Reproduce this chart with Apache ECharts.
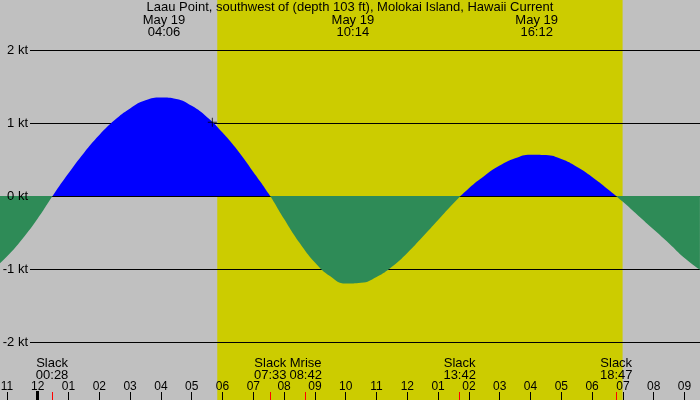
<!DOCTYPE html>
<html>
<head>
<meta charset="utf-8">
<script src="https://cdn.jsdelivr.net/npm/echarts@6/dist/echarts.min.js"></script>
<style>
html, body { margin: 0; padding: 0; background: #c0c0c0; }
#chart { width: 700px; height: 400px; }
</style>
</head>
<body>
<div id="chart"></div>
<script>
// half-hourly current (knots), hours after midnight May 19; + flood, - ebb
const hours = [-1.5, -1, -0.5, 0, 0.5, 1, 1.5, 2, 2.5, 3, 3.5, 4, 4.5, 5, 5.5, 6, 6.5, 7, 7.5,
  8, 8.5, 9, 9.5, 10, 10.5, 11, 11.5, 12, 12.5, 13, 13.5, 14, 14.5, 15, 15.5, 16, 16.5,
  17, 17.5, 18, 18.5, 19, 19.5, 20, 20.5, 21, 21.5]
const knots = [-1.02, -0.83, -0.59, -0.31, 0.01, 0.31, 0.59, 0.835, 1.04, 1.2, 1.31, 1.35, 1.33, 1.235, 1.08, 0.87, 0.62, 0.33, 0.03,
  -0.315, -0.64, -0.91, -1.1, -1.2, -1.19, -1.11, -0.97, -0.78, -0.56, -0.33, -0.1, 0.107, 0.275, 0.416, 0.517, 0.566, 0.56,
  0.505, 0.4, 0.261, 0.097, -0.08, -0.27, -0.46, -0.65, -0.85, -1.01]

const hourTicks = [-1, 0, 1, 2, 3, 4, 5, 6, 7, 8, 9, 10, 11, 12, 13, 14, 15, 16, 17, 18, 19, 20, 21]
const knotTicks = [-2, -1, 0, 1, 2]

// slack water and moonrise
const eventHours = [0.467, 7.55, 8.7, 13.7, 18.783]
const eventNames = ['Slack', 'Slack', 'Mrise', 'Slack', 'Slack']
const eventClock = ['00:28', '07:33', '08:42', '13:42', '18:47']

// max current times
const peakHours = [4.1, 10.233, 16.2]
const peakDates = ['May 19', 'May 19', 'May 19']
const peakClock = ['04:06', '10:14', '16:12']

const sunrise = 5.83
const sunset = 18.99
const nowMark = [5.67, 1.01]

const xMin = -1.224, xMax = 21.503
const yMin = -2.795, yMax = 2.685

const font = 'Liberation Sans, Arial, sans-serif'

function findIdx(arr, v) {
  for (let i = 0; i < arr.length; i++) {
    if (Math.abs(arr[i] - v) < 1e-4) return i
  }
  return -1
}

let dom = document.getElementById('chart')
let myChart = echarts.init(dom)
let option = {
  backgroundColor: '#c0c0c0',
  animation: false,
  title: {
    text: 'Laau Point, southwest of (depth 103 ft), Molokai Island, Hawaii Current',
    left: 'center',
    top: 1,
    padding: 0,
    textStyle: { fontFamily: font, fontSize: 13, fontWeight: 'normal', color: '#000' }
  },
  grid: [
    { left: 0, right: 0, top: 0, bottom: 0, outerBoundsMode: 'none' },
    { left: 30, right: 0, top: 0, bottom: 0, outerBoundsMode: 'none' }
  ],
  xAxis: [
    { // hour ticks
      type: 'value', gridIndex: 0, min: xMin, max: xMax, position: 'bottom', z: 5,
      axisLine: { show: false, onZero: false }, splitLine: { show: false },
      axisTick: { show: true, inside: true, length: 8, customValues: hourTicks, lineStyle: { color: '#000', width: 1 } },
      axisLabel: {
        show: true, inside: true, margin: 7, customValues: hourTicks,
        fontFamily: font, fontSize: 12, color: '#000',
        formatter: function (v) {
          let h = ((Math.round(v) % 12) + 12) % 12
          if (h === 0) h = 12
          return (h < 10 ? '0' : '') + h
        }
      }
    },
    { // events
      type: 'value', gridIndex: 0, min: xMin, max: xMax, position: 'bottom', z: 5,
      axisLine: { show: false, onZero: false }, splitLine: { show: false },
      axisTick: { show: true, inside: true, length: 8, customValues: eventHours, lineStyle: { color: '#ff0000', width: 1 } },
      axisLabel: {
        show: true, inside: true, margin: 19, customValues: eventHours,
        fontFamily: font, fontSize: 13, lineHeight: 12, color: '#000',
        formatter: function (v) {
          let i = findIdx(eventHours, v)
          return i < 0 ? '' : eventNames[i] + '\n' + eventClock[i]
        }
      }
    },
    { // midnight
      type: 'value', gridIndex: 0, min: xMin, max: xMax, position: 'bottom', z: 5,
      axisLine: { show: false, onZero: false }, splitLine: { show: false },
      axisTick: { show: true, inside: true, length: 9, customValues: [0], lineStyle: { color: '#000', width: 3 } },
      axisLabel: { show: false }
    },
    { // max current labels
      type: 'value', gridIndex: 0, min: xMin, max: xMax, position: 'top', z: 5,
      axisLine: { show: false, onZero: false }, splitLine: { show: false }, axisTick: { show: false },
      axisLabel: {
        show: true, inside: true, margin: 14, customValues: peakHours,
        fontFamily: font, fontSize: 13, lineHeight: 12, color: '#000',
        formatter: function (v) {
          let i = findIdx(peakHours, v)
          return i < 0 ? '' : peakDates[i] + '\n' + peakClock[i]
        }
      }
    },
    { type: 'value', gridIndex: 1, min: xMin, max: xMax, show: false }
  ],
  yAxis: [
    {
      type: 'value', gridIndex: 0, min: yMin, max: yMax, z: 5,
      axisLine: { show: false, onZero: false }, splitLine: { show: false },
      axisTick: { show: false, customValues: knotTicks },
      axisLabel: {
        show: true, inside: true, align: 'right', margin: 28, customValues: knotTicks,
        fontFamily: font, fontSize: 13, color: '#000',
        formatter: '{value} kt'
      }
    },
    {
      type: 'value', gridIndex: 1, min: yMin, max: yMax, z: 1,
      axisLine: { show: false, onZero: false }, axisLabel: { show: false },
      axisTick: { show: false, customValues: knotTicks },
      splitLine: { show: true, lineStyle: { color: '#000', width: 1 } }
    }
  ],
  visualMap: {
    show: false,
    seriesIndex: 1,
    dimension: 1,
    pieces: [
      { gt: 0, lte: 5, color: '#0000ff' },
      { gte: -5, lte: 0, color: '#2e8b57' }
    ]
  },
  series: [
    {
      type: 'line', xAxisIndex: 0, yAxisIndex: 0, z: -1,
      data: [[sunrise, 0]], showSymbol: false, lineStyle: { width: 0 },
      markArea: {
        silent: true, z: -1,
        itemStyle: { color: '#cccc00' },
        data: [[{ xAxis: sunrise }, { xAxis: sunset }]]
      }
    },
    {
      type: 'line', xAxisIndex: 0, yAxisIndex: 0, z: 2,
      data: hours.map((h, i) => [h, knots[i]]),
      smooth: 0.5, showSymbol: false, symbol: 'none',
      lineStyle: { width: 0 },
      areaStyle: { opacity: 1 }
    },
    {
      type: 'scatter', xAxisIndex: 0, yAxisIndex: 0, z: 4,
      data: [nowMark],
      symbol: 'path://M0,5L10,5M5,0L5,10', symbolSize: 9,
      itemStyle: { color: 'rgba(0,0,0,0)', borderColor: '#000', borderWidth: 1 }
    }
  ]
}
if (option && typeof option === 'object') {
  myChart.setOption(option)
}
</script>
</body>
</html>
